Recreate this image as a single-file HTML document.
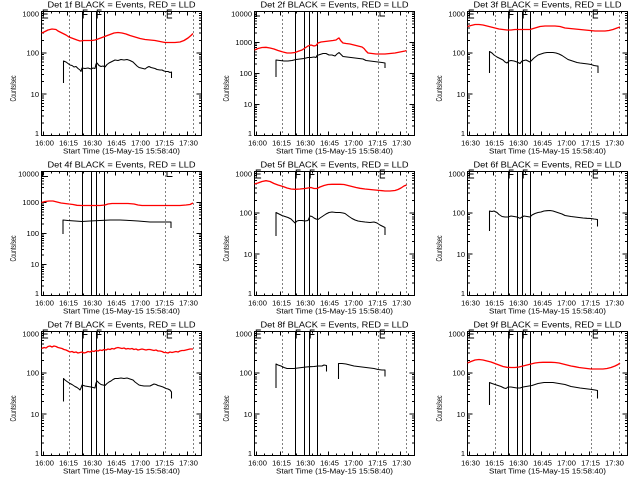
<!DOCTYPE html>
<html><head><meta charset="utf-8"><style>
html,body{margin:0;padding:0;background:#fff;}
svg{display:block;}
text{font-family:"Liberation Sans",sans-serif;fill:#000;}
.t{font-size:8px;}
.s{font-size:7.5px;}
.L{font-size:13px;}
</style></head><body>
<svg width="640" height="480" viewBox="0 0 640 480" xmlns="http://www.w3.org/2000/svg">
<rect width="640" height="480" fill="#fff"/>
<defs>
<path id="xb" d="M2 124v-4M26 124v-4M50 124v-4M74 124v-4M98 124v-4M122 124v-4M146 124v-4M10 124v-2M18 124v-2M34 124v-2M42 124v-2M58 124v-2M66 124v-2M82 124v-2M90 124v-2M106 124v-2M114 124v-2M130 124v-2M138 124v-2M154 124v-2" stroke="#000" fill="none" shape-rendering="crispEdges"/>
<path id="yl3" d="M0 41.33h5M0 82.67h5M0 111.56h2.5M0 104.28h2.5M0 99.12h2.5M0 95.11h2.5M0 91.84h2.5M0 89.07h2.5M0 86.67h2.5M0 84.56h2.5M0 70.23h2.5M0 62.95h2.5M0 57.79h2.5M0 53.78h2.5M0 50.51h2.5M0 47.74h2.5M0 45.34h2.5M0 43.23h2.5M0 28.89h2.5M0 21.61h2.5M0 16.45h2.5M0 12.44h2.5M0 9.17h2.5M0 6.4h2.5M0 4h2.5M0 1.89h2.5" stroke="#000" fill="none" shape-rendering="crispEdges"/>
<path id="yl4" d="M0 31h5M0 62h5M0 93h5M0 114.67h2.5M0 109.21h2.5M0 105.34h2.5M0 102.33h2.5M0 99.88h2.5M0 97.8h2.5M0 96.01h2.5M0 94.42h2.5M0 83.67h2.5M0 78.21h2.5M0 74.34h2.5M0 71.33h2.5M0 68.88h2.5M0 66.8h2.5M0 65.01h2.5M0 63.42h2.5M0 52.67h2.5M0 47.21h2.5M0 43.34h2.5M0 40.33h2.5M0 37.88h2.5M0 35.8h2.5M0 34.01h2.5M0 32.42h2.5M0 21.67h2.5M0 16.21h2.5M0 12.34h2.5M0 9.33h2.5M0 6.88h2.5M0 4.8h2.5M0 3.01h2.5M0 1.42h2.5" stroke="#000" fill="none" shape-rendering="crispEdges"/>
<g id="common">
<rect x="0" y="0" width="160" height="124" fill="none" stroke="#000" shape-rendering="crispEdges"/>
<use href="#xb"/>
<use href="#xb" transform="translate(0,124) scale(1,-1)"/>
<path d="M28 0V124M124 0V124M152 0V124" stroke="#000" stroke-dasharray="1 3" fill="none" shape-rendering="crispEdges"/>
<path d="M41 0V124M50 0V124M55 0V124M63 0V124" stroke="#000" fill="none" shape-rendering="crispEdges"/>
</g>
<g id="ax3"><use href="#common"/><use href="#yl3"/><use href="#yl3" transform="translate(160,0) scale(-1,1)"/></g>
<g id="ax4"><use href="#common"/><use href="#yl4"/><use href="#yl4" transform="translate(160,0) scale(-1,1)"/></g>
</defs>

<!-- Panel 1 -->
<g transform="translate(41.5,11.5)">
<use href="#ax3"/>
<text class="t" x="80" y="-4.2" text-anchor="middle" textLength="148" lengthAdjust="spacingAndGlyphs">Det 1f BLACK = Events, RED = LLD</text>
<text class="s" transform="translate(-25.5,77) rotate(-90)" text-anchor="middle" textLength="26" lengthAdjust="spacingAndGlyphs" style="font-size:8px">Counts/sec</text>
<text class="s" x="-2.5" y="5" text-anchor="end">1000</text>
<text class="s" x="-2.5" y="44" text-anchor="end">100</text>
<text class="s" x="-2.5" y="85.4" text-anchor="end">10</text>
<text class="s" x="-2.5" y="124.5" text-anchor="end">1</text>
<text class="s" y="134" text-anchor="middle"><tspan x="3">16:00</tspan><tspan x="27">16:15</tspan><tspan x="51">16:30</tspan><tspan x="75">16:45</tspan><tspan x="99">17:00</tspan><tspan x="123">17:15</tspan><tspan x="147">17:30</tspan></text>
<text class="s" x="80" y="142" text-anchor="middle" textLength="117" lengthAdjust="spacingAndGlyphs">Start Time (15-May-15 15:58:40)</text>
<text class="L" transform="translate(0.5,7.2) scale(0.75,1)">E</text>
<text class="L" transform="translate(40.5,7.2) scale(0.75,1)">F</text>
<text class="L" transform="translate(54.5,7.2) scale(0.75,1)">F</text>
<text class="L" transform="translate(124.5,7.2) scale(0.75,1)">E</text>
</g>

<!-- Panel 2 -->
<g transform="translate(254.5,11.5)">
<use href="#ax4"/>
<text class="t" x="80" y="-4.2" text-anchor="middle" textLength="148" lengthAdjust="spacingAndGlyphs">Det 2f BLACK = Events, RED = LLD</text>
<text class="s" transform="translate(-25.5,77) rotate(-90)" text-anchor="middle" textLength="26" lengthAdjust="spacingAndGlyphs" style="font-size:8px">Counts/sec</text>
<text class="s" x="-2.5" y="5" text-anchor="end">10000</text>
<text class="s" x="-2.5" y="33.7" text-anchor="end">1000</text>
<text class="s" x="-2.5" y="64.7" text-anchor="end">100</text>
<text class="s" x="-2.5" y="95.7" text-anchor="end">10</text>
<text class="s" x="-2.5" y="124.5" text-anchor="end">1</text>
<text class="s" y="134" text-anchor="middle"><tspan x="3">16:00</tspan><tspan x="27">16:15</tspan><tspan x="51">16:30</tspan><tspan x="75">16:45</tspan><tspan x="99">17:00</tspan><tspan x="123">17:15</tspan><tspan x="147">17:30</tspan></text>
<text class="s" x="80" y="142" text-anchor="middle" textLength="117" lengthAdjust="spacingAndGlyphs">Start Time (15-May-15 15:58:40)</text>
<path d="M0 0V4.5H5.5M125.5 0V4.5H130.5" stroke="#000" fill="none" shape-rendering="crispEdges"/>
</g>

<!-- Panel 3 -->
<g transform="translate(467.5,11.5)">
<use href="#ax3"/>
<text class="t" x="80" y="-4.2" text-anchor="middle" textLength="148" lengthAdjust="spacingAndGlyphs">Det 3f BLACK = Events, RED = LLD</text>
<text class="s" transform="translate(-25.5,77) rotate(-90)" text-anchor="middle" textLength="26" lengthAdjust="spacingAndGlyphs" style="font-size:8px">Counts/sec</text>
<text class="s" x="-2.5" y="5" text-anchor="end">1000</text>
<text class="s" x="-2.5" y="44" text-anchor="end">100</text>
<text class="s" x="-2.5" y="85.4" text-anchor="end">10</text>
<text class="s" x="-2.5" y="124.5" text-anchor="end">1</text>
<text class="s" y="134" text-anchor="middle"><tspan x="3">16:30</tspan><tspan x="27">16:15</tspan><tspan x="51">16:30</tspan><tspan x="75">16:45</tspan><tspan x="99">17:00</tspan><tspan x="123">17:15</tspan><tspan x="147">17:30</tspan></text>
<text class="s" x="80" y="142" text-anchor="middle" textLength="117" lengthAdjust="spacingAndGlyphs">Start Time (15-May-15 15:58:40)</text>
<text class="L" transform="translate(0.5,7.2) scale(0.75,1)">E</text>
<text class="L" transform="translate(40.5,7.2) scale(0.75,1)">F</text>
<text class="L" transform="translate(54.5,7.2) scale(0.75,1)">F</text>
<text class="L" transform="translate(124.5,7.2) scale(0.75,1)">E</text>
</g>

<!-- Panel 4 -->
<g transform="translate(41.5,171.5)">
<use href="#ax4"/>
<text class="t" x="80" y="-4.2" text-anchor="middle" textLength="148" lengthAdjust="spacingAndGlyphs">Det 4f BLACK = Events, RED = LLD</text>
<text class="s" transform="translate(-25.5,77) rotate(-90)" text-anchor="middle" textLength="26" lengthAdjust="spacingAndGlyphs" style="font-size:8px">Counts/sec</text>
<text class="s" x="-2.5" y="5" text-anchor="end">10000</text>
<text class="s" x="-2.5" y="33.7" text-anchor="end">1000</text>
<text class="s" x="-2.5" y="64.7" text-anchor="end">100</text>
<text class="s" x="-2.5" y="95.7" text-anchor="end">10</text>
<text class="s" x="-2.5" y="124.5" text-anchor="end">1</text>
<text class="s" y="134" text-anchor="middle"><tspan x="3">16:00</tspan><tspan x="27">16:15</tspan><tspan x="51">16:30</tspan><tspan x="75">16:45</tspan><tspan x="99">17:00</tspan><tspan x="123">17:15</tspan><tspan x="147">17:30</tspan></text>
<text class="s" x="80" y="142" text-anchor="middle" textLength="117" lengthAdjust="spacingAndGlyphs">Start Time (15-May-15 15:58:40)</text>
<path d="M1 0V5H6.5M125.5 0V5H131" stroke="#000" fill="none" shape-rendering="crispEdges"/>
</g>

<!-- Panel 5 -->
<g transform="translate(254.5,171.5)">
<use href="#ax3"/>
<text class="t" x="80" y="-4.2" text-anchor="middle" textLength="148" lengthAdjust="spacingAndGlyphs">Det 5f BLACK = Events, RED = LLD</text>
<text class="s" transform="translate(-25.5,77) rotate(-90)" text-anchor="middle" textLength="26" lengthAdjust="spacingAndGlyphs" style="font-size:8px">Counts/sec</text>
<text class="s" x="-2.5" y="5" text-anchor="end">1000</text>
<text class="s" x="-2.5" y="44" text-anchor="end">100</text>
<text class="s" x="-2.5" y="85.4" text-anchor="end">10</text>
<text class="s" x="-2.5" y="124.5" text-anchor="end">1</text>
<text class="s" y="134" text-anchor="middle"><tspan x="3">16:00</tspan><tspan x="27">16:15</tspan><tspan x="51">16:30</tspan><tspan x="75">16:45</tspan><tspan x="99">17:00</tspan><tspan x="123">17:15</tspan><tspan x="147">17:30</tspan></text>
<text class="s" x="80" y="142" text-anchor="middle" textLength="117" lengthAdjust="spacingAndGlyphs">Start Time (15-May-15 15:58:40)</text>
<text class="L" transform="translate(0.5,7.2) scale(0.75,1)">E</text>
<text class="L" transform="translate(40.5,7.2) scale(0.75,1)">F</text>
<text class="L" transform="translate(54.5,7.2) scale(0.75,1)">F</text>
<text class="L" transform="translate(124.5,7.2) scale(0.75,1)">E</text>
</g>

<!-- Panel 6 -->
<g transform="translate(467.5,171.5)">
<use href="#ax3"/>
<text class="t" x="80" y="-4.2" text-anchor="middle" textLength="148" lengthAdjust="spacingAndGlyphs">Det 6f BLACK = Events, RED = LLD</text>
<text class="s" transform="translate(-25.5,77) rotate(-90)" text-anchor="middle" textLength="26" lengthAdjust="spacingAndGlyphs" style="font-size:8px">Counts/sec</text>
<text class="s" x="-2.5" y="5" text-anchor="end">1000</text>
<text class="s" x="-2.5" y="44" text-anchor="end">100</text>
<text class="s" x="-2.5" y="85.4" text-anchor="end">10</text>
<text class="s" x="-2.5" y="124.5" text-anchor="end">1</text>
<text class="s" y="134" text-anchor="middle"><tspan x="3">16:30</tspan><tspan x="27">16:15</tspan><tspan x="51">16:30</tspan><tspan x="75">16:45</tspan><tspan x="99">17:00</tspan><tspan x="123">17:15</tspan><tspan x="147">17:30</tspan></text>
<text class="s" x="80" y="142" text-anchor="middle" textLength="117" lengthAdjust="spacingAndGlyphs">Start Time (15-May-15 15:58:40)</text>
<text class="L" transform="translate(0.5,7.2) scale(0.75,1)">E</text>
<text class="L" transform="translate(40.5,7.2) scale(0.75,1)">F</text>
<text class="L" transform="translate(54.5,7.2) scale(0.75,1)">F</text>
<text class="L" transform="translate(124.5,7.2) scale(0.75,1)">E</text>
</g>

<!-- Panel 7 -->
<g transform="translate(41.5,331.5)">
<use href="#ax3"/>
<text class="t" x="80" y="-4.2" text-anchor="middle" textLength="148" lengthAdjust="spacingAndGlyphs">Det 7f BLACK = Events, RED = LLD</text>
<text class="s" transform="translate(-25.5,77) rotate(-90)" text-anchor="middle" textLength="26" lengthAdjust="spacingAndGlyphs" style="font-size:8px">Counts/sec</text>
<text class="s" x="-2.5" y="5" text-anchor="end">1000</text>
<text class="s" x="-2.5" y="44" text-anchor="end">100</text>
<text class="s" x="-2.5" y="85.4" text-anchor="end">10</text>
<text class="s" x="-2.5" y="124.5" text-anchor="end">1</text>
<text class="s" y="134" text-anchor="middle"><tspan x="3">16:00</tspan><tspan x="27">16:15</tspan><tspan x="51">16:30</tspan><tspan x="75">16:45</tspan><tspan x="99">17:00</tspan><tspan x="123">17:15</tspan><tspan x="147">17:30</tspan></text>
<text class="s" x="80" y="142" text-anchor="middle" textLength="117" lengthAdjust="spacingAndGlyphs">Start Time (15-May-15 15:58:40)</text>
<text class="L" transform="translate(0.5,7.2) scale(0.75,1)">E</text>
<text class="L" transform="translate(40.5,7.2) scale(0.75,1)">F</text>
<text class="L" transform="translate(54.5,7.2) scale(0.75,1)">F</text>
<text class="L" transform="translate(124.5,7.2) scale(0.75,1)">E</text>
</g>

<!-- Panel 8 -->
<g transform="translate(254.5,331.5)">
<use href="#ax3"/>
<text class="t" x="80" y="-4.2" text-anchor="middle" textLength="148" lengthAdjust="spacingAndGlyphs">Det 8f BLACK = Events, RED = LLD</text>
<text class="s" transform="translate(-25.5,77) rotate(-90)" text-anchor="middle" textLength="26" lengthAdjust="spacingAndGlyphs" style="font-size:8px">Counts/sec</text>
<text class="s" x="-2.5" y="5" text-anchor="end">1000</text>
<text class="s" x="-2.5" y="44" text-anchor="end">100</text>
<text class="s" x="-2.5" y="85.4" text-anchor="end">10</text>
<text class="s" x="-2.5" y="124.5" text-anchor="end">1</text>
<text class="s" y="134" text-anchor="middle"><tspan x="3">16:00</tspan><tspan x="27">16:15</tspan><tspan x="51">16:30</tspan><tspan x="75">16:45</tspan><tspan x="99">17:00</tspan><tspan x="123">17:15</tspan><tspan x="147">17:30</tspan></text>
<text class="s" x="80" y="142" text-anchor="middle" textLength="117" lengthAdjust="spacingAndGlyphs">Start Time (15-May-15 15:58:40)</text>
<text class="L" transform="translate(0.5,7.2) scale(0.75,1)">E</text>
<text class="L" transform="translate(40.5,7.2) scale(0.75,1)">F</text>
<text class="L" transform="translate(54.5,7.2) scale(0.75,1)">F</text>
<text class="L" transform="translate(124.5,7.2) scale(0.75,1)">E</text>
</g>

<!-- Panel 9 -->
<g transform="translate(467.5,331.5)">
<use href="#ax3"/>
<text class="t" x="80" y="-4.2" text-anchor="middle" textLength="148" lengthAdjust="spacingAndGlyphs">Det 9f BLACK = Events, RED = LLD</text>
<text class="s" transform="translate(-25.5,77) rotate(-90)" text-anchor="middle" textLength="26" lengthAdjust="spacingAndGlyphs" style="font-size:8px">Counts/sec</text>
<text class="s" x="-2.5" y="5" text-anchor="end">1000</text>
<text class="s" x="-2.5" y="44" text-anchor="end">100</text>
<text class="s" x="-2.5" y="85.4" text-anchor="end">10</text>
<text class="s" x="-2.5" y="124.5" text-anchor="end">1</text>
<text class="s" y="134" text-anchor="middle"><tspan x="3">16:30</tspan><tspan x="27">16:15</tspan><tspan x="51">16:30</tspan><tspan x="75">16:45</tspan><tspan x="99">17:00</tspan><tspan x="123">17:15</tspan><tspan x="147">17:30</tspan></text>
<text class="s" x="80" y="142" text-anchor="middle" textLength="117" lengthAdjust="spacingAndGlyphs">Start Time (15-May-15 15:58:40)</text>
<text class="L" transform="translate(0.5,7.2) scale(0.75,1)">E</text>
<text class="L" transform="translate(40.5,7.2) scale(0.75,1)">F</text>
<text class="L" transform="translate(54.5,7.2) scale(0.75,1)">F</text>
<text class="L" transform="translate(124.5,7.2) scale(0.75,1)">E</text>
</g>

<!-- Data: red (LLD) -->
<g fill="none" stroke="#ff0000" stroke-width="1.35" stroke-linejoin="round">
<polyline points="41.5,33 44,32 48,30 52,29 56,29.5 58,31 62,33 66,35 69,37 73,38.5 77,40 80,41 84,40.5 88,40.5 92,40.5 95,40 98,39 102,37.5 106,36 110,34.5 114,33 118,32.5 122,33 126,34 130,35.5 135,37 140,38.5 145,39.5 150,40 155,40.5 160,41.5 165,42.5 170,42.5 175,42.5 180,42 184,40.5 188,38 191,35.5 193,33.5"/>
<polyline points="254.5,50 258,48.5 262,47.5 266,47.3 270,48 274,49 278,50.5 283,52 287,53 291,53 295,52.5 299,51 302,50 305,48 308,46 311,45 314,46 316,45.5 318,43 321,42 325,41.5 329,41 333,40.5 336,40 338,38.5 339,38 341,41 343,43 346,43.5 350,44 354,45 358,46 362,47 364,48.5 366,51 368,53 372,53.5 376,54 380,54 385,54 390,53.5 395,53 400,52 405,51 406.5,50.5"/>
<polyline points="467.5,26.5 471,25.5 475,24.5 479,24.5 483,25 487,26 491,27 495,28 499,29 503,29.5 507,30 511,30 515,29.5 520,29.5 525,29.5 530,29.5 535,28 540,26.5 545,26 550,26 555,26 560,26.5 565,28 570,28.5 575,29 580,29.5 585,30 590,30.5 595,31 600,31 605,31 609,30.5 613,29.5 617,28 620,27"/>
<polyline points="41.5,202.5 45,201.5 49,201 53,201 57,202 61,203 65,203.5 69,204 73,204.5 77,205.3 81,205.5 90,205.5 100,205.5 105,205 108,204 112,203.5 120,203.5 128,203.5 134,204 138,205 142,205.5 150,205.5 160,205.5 170,205.5 180,205.5 186,205 190,204.5 193,203"/>
<polyline points="254.5,184 258,183 262,181.5 266,180.7 270,181.5 274,183.5 278,185 283,186.5 287,188 291,189 295,189.3 300,189 305,188.5 308,188 311,187.5 314,188.5 317,188.5 320,187 324,185.5 328,184.5 332,184.3 336,184.3 340,184.3 344,184.5 348,185.5 352,186.5 356,187.5 360,188.3 365,189 370,189.5 375,190 380,190.5 385,191 390,191 395,190.5 398,189.5 401,188 404,186 406.5,185"/>
<polyline points="41.5,348.5 44,347.5 46,348 48,346.5 50,346 52,347 54,346 56,346.5 58,347.5 60,348 62,348.5 64,349.5 66,350 68,351 70,352 72,351.5 74,352.5 76,352 78,353 80,352.5 82,352 84,353 86,352.5 88,351.5 90,352 92,351 94,351.5 96,350.5 98,351 100,350 102,350.5 104,349.5 106,350 108,349 110,349.5 112,348.5 114,349 116,348 118,347.5 120,348 122,348.5 124,348 126,349 128,348.5 130,349 132,348.5 134,349.5 136,349 138,350 140,349.5 142,349 144,349.5 146,350 148,349.5 150,349.5 152,350 154,350.5 156,350 158,351 160,351 162,351.5 164,352.5 166,352.5 168,353 170,352 172,352.5 174,352 176,351.5 178,352 180,351 182,350.5 184,350.5 186,350 188,349.5 190,349 193,349"/>
<polyline points="467.5,363 471,361.5 475,360 479,359.5 483,360 487,361 491,362 495,363.5 499,365 503,366.5 507,367.3 511,367.5 515,367.5 519,367 523,366 527,365 531,364 535,363 539,362.5 543,362.3 547,362.3 551,362.3 555,362.5 559,363 563,364 567,365 571,366 575,366.7 579,367.5 583,368 587,368.5 591,369 595,369 599,369 603,369 607,368.5 611,367.5 615,366 618,364.5 620,363"/>
</g>

<!-- Data: black (Events) -->
<g fill="none" stroke="#000" stroke-width="1.05" stroke-linejoin="round">
<polyline points="63.5,83 63.5,61 66,62 68,63.5 70,65 72,65.5 74,67 76,66.5 78,68.5 80,70 81,71.5 82,68 85,68.5 88,68 91,69 93,68 95,68.5 96,64 97,63 99,65.5 101,66.5 103,66 105,67 107,64.5 109,63 111,62 113,61 115,60 118,60.5 121,59.5 124,60 127,59.5 130,60.5 133,62 135,64 137,66 139,67.5 141,68 143,68.5 145,69 147,67.5 149,66.5 151,67.5 153,68 155,68.5 157,69.5 160,70 162,70 164,71 166,71.5 168,71.5 170,72.5 171.5,72 171.5,78"/>
<polyline points="276,77 276,60 280,60.5 284,61 288,61 292,60.5 296,59.5 300,59 304,58.5 308,57.5 311,57.5 314,57 316,57.5 317,55.5 320,54.5 323,53.5 326,53.5 329,55 332,55 335,56 337,54 339,52.5 341,54.5 343,56.5 347,57 351,57.5 355,58 359,58.5 363,59 366,60.5 370,61 374,61.5 378,62 382,62.5 385,63 385,68"/>
<polyline points="489.5,73 489.5,51.5 492,53 494,55 497,57 500,58.5 503,60 505,62 507,63 509,61 511,60.5 514,61 517,62 520,63.5 522,61 524,60.5 526,60 528,61 530,62 532,60 534,58 536,56.5 538,55 541,54 544,53 547,52.5 550,52.5 553,52.5 556,53 559,54 562,55.5 565,57.5 568,59.5 571,60.5 574,61.5 577,62.5 580,63 584,63.5 588,64 591,64.5 594,65.5 597,66 598,66 598,73"/>
<polyline points="63,234 63,220 68,220.5 75,221 82,221.5 90,221 100,220.5 110,220 120,220 130,220.5 138,221 144,221.5 150,222 158,222 165,222 171,222 171,228"/>
<polyline points="276,236 276,212.5 279,214 282,215.5 285,216.5 288,217.5 291,219 293,221 295,223 297,221 299,220.5 302,220.5 305,221 308,220.5 310,216 312,216.5 314,218 316,219 318,219.5 320,218 323,216 326,214 329,212.5 332,212 336,212.5 340,212.5 343,213 345,213.5 347,215 349,216.5 352,218.5 355,220 358,221 361,221.5 365,222 370,222.5 374,222 377,223 380,225 382,226 385,227.5 385,235"/>
<polyline points="489.5,231 489.5,211 492,211.5 494,211 497,212.5 499,214.5 502,216.5 505,217 508,217 511,216 514,216.5 517,217 520,218.3 522,217 524,216 527,216.5 530,217 532,215 535,213.5 538,212.5 541,212 544,211 547,210.7 550,210.5 553,211 556,212 559,213 562,214 565,215.5 568,216 571,216.5 575,217 579,217.5 583,218 587,218.3 591,218.5 594,219 597.5,219.5 597.5,226.5"/>
<polyline points="63.5,401.5 63.5,378.5 65,380 67,381.5 70,383.5 72,384.5 75,386.5 77,387.5 79,389 80,390 81,388 82,385 85,386 88,386.5 91,387 93,387.5 95,388 96,383 97,381 99,383 101,384.5 103,385 105,385.5 107,383.5 109,382 111,381 113,379.5 115,378.5 118,378.5 121,378 124,378.5 127,378 130,379 133,380 135,382 137,383.5 139,385 141,385.5 144,386 147,386 150,386 152,385 154,384 156,384.5 158,385.5 160,386 163,387 166,388.5 168,389 170,390 171.5,392 171.5,398.5"/>
<polyline points="276,388 276,364 278,365 281,366 284,367.5 287,368.5 290,368.5 294,368.5 298,368 302,367.5 306,367 310,366.7 314,366.5 318,366 322,366 324,365 326.5,365.5 326.5,371.5"/>
<polyline points="338.5,379 338.5,363.5 342,363.5 346,364 350,365 354,366 358,366.5 362,367 366,367.5 370,368 374,368.5 378,369.5 382,370 385,370 385,376.5"/>
<polyline points="489.5,405 489.5,382.5 492,383.5 495,384.5 498,385.5 501,386.5 504,388 506,388.5 508,387 511,387 514,387.5 517,388 520,388 523,387 526,386.5 529,386 532,385.5 535,384.5 538,383.5 541,383 544,382.5 547,382.5 550,382.5 553,382.5 556,383 559,383.5 562,384 565,384.5 568,385.5 571,386.5 574,387 577,387.5 580,388 584,388.5 588,389 592,389.5 595,390 597.5,390.5 597.5,398.5"/>
</g>
</svg>
</body></html>
